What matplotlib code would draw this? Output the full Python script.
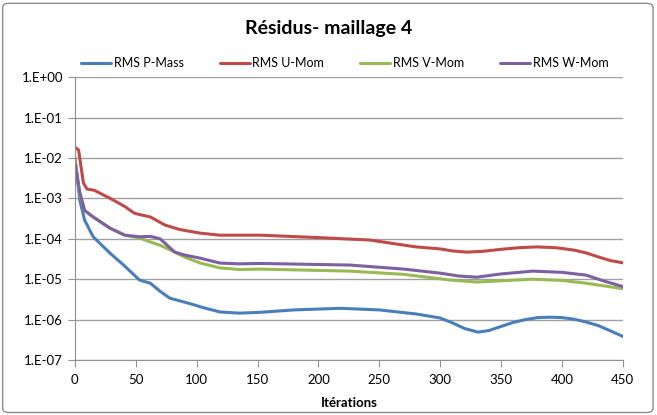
import math
import matplotlib.pyplot as plt
import matplotlib.ticker as mticker
from matplotlib.patches import FancyBboxPatch

plt.rcParams['font.family'] = ['Lato', 'DejaVu Sans']

# values (log10 of residual)
x_p = [0, 4, 8, 15, 29, 40, 53, 62, 70, 78, 94, 105, 119, 135, 152, 180, 218, 250, 280, 300, 310, 320, 331,
       340, 350, 360, 370, 380, 390, 400, 410, 420, 430, 440, 451]
p_mass = [-1.98, -3.04, -3.54, -3.95, -4.36, -4.65, -5.02, -5.1, -5.3, -5.47, -5.6, -5.7, -5.81, -5.84, -5.82,
          -5.76, -5.72, -5.76, -5.86, -5.96, -6.08, -6.22, -6.31, -6.27, -6.17, -6.07, -6.0, -5.95, -5.94,
          -5.95, -5.99, -6.06, -6.15, -6.28, -6.43]

x_u = [0, 3, 7, 10, 16, 29, 41, 49, 62, 74, 86, 103, 119, 152, 200, 242, 280, 300, 310, 322, 335, 350, 365,
       379, 395, 410, 420, 430, 440, 451]
u_mom = [-1.73, -1.8, -2.62, -2.77, -2.8, -3.0, -3.2, -3.37, -3.46, -3.66, -3.77, -3.86, -3.91, -3.91, -3.97,
         -4.03, -4.2, -4.25, -4.3, -4.33, -4.31, -4.26, -4.22, -4.2, -4.22, -4.28, -4.35, -4.45, -4.54, -4.6]

x_v = [0, 4, 8, 15, 29, 41, 53, 62, 70, 82, 90, 103, 119, 135, 152, 226, 270, 308, 330, 350, 376, 400, 420,
       451]
v_mom = [-2.0, -2.9, -3.3, -3.46, -3.74, -3.91, -3.98, -4.08, -4.16, -4.33, -4.45, -4.6, -4.72, -4.76, -4.75,
         -4.8, -4.88, -5.02, -5.07, -5.04, -5.0, -5.03, -5.1, -5.24]

x_w = [0, 4, 8, 15, 29, 41, 53, 62, 70, 82, 90, 103, 119, 135, 152, 226, 270, 300, 315, 330, 350, 376, 400,
       420, 435, 451]
w_mom = [-2.1, -2.85, -3.3, -3.46, -3.74, -3.91, -3.95, -3.94, -4.0, -4.33, -4.4, -4.48, -4.6, -4.62, -4.61,
         -4.65, -4.75, -4.85, -4.92, -4.95, -4.87, -4.8, -4.83, -4.9, -5.05, -5.19]

names = ['RMS P-Mass', 'RMS U-Mom', 'RMS V-Mom', 'RMS W-Mom']
colors = ['#4A7EBB', '#BE4B48', '#98B954', '#7D60A0']

fig = plt.figure(figsize=(6.57, 4.15), dpi=100)
ax = fig.add_axes([0.114, 0.1325, 0.834, 0.6815])

series = [(x_p, p_mass), (x_u, u_mom), (x_v, v_mom), (x_w, w_mom)]
for (xs, ys), name, c in zip(series, names, colors):
    ax.plot(xs, [10 ** v for v in ys], color=c, lw=2.2, label=name,
            solid_capstyle='round', solid_joinstyle='round')

ax.set_yscale('log')
ax.set_ylim(1e-7, 1e0)
ax.set_xlim(0, 450)
ax.set_xticks(range(0, 451, 50))
ax.yaxis.set_major_locator(mticker.LogLocator(base=10, numticks=10))
ax.yaxis.set_minor_locator(mticker.NullLocator())
ax.yaxis.set_major_formatter(mticker.FuncFormatter(lambda v, p: '1.E%+03d' % round(math.log10(v))))
ax.grid(axis='y', color='#A0A0A0', lw=1)
ax.set_axisbelow(True)
for s in ['top', 'right']:
    ax.spines[s].set_visible(False)
for s in ['left', 'bottom']:
    ax.spines[s].set_color('#909090')
ax.tick_params(axis='both', colors='#909090', labelcolor='black', labelsize=9.5, length=5)
ax.tick_params(axis='x', direction='out', pad=5)
ax.set_xlabel('Itérations', fontsize=9.5, fontweight='bold', labelpad=8)

fig.text(0.5, 0.932, 'Résidus- maillage 4', fontsize=14, fontweight='bold', ha='center', va='center')
fig.legend(loc='center', bbox_to_anchor=(0.525, 0.848), ncol=4, frameon=False, fontsize=9,
           handlelength=2.4, columnspacing=2.9, handletextpad=0.2)

fig.patches.append(FancyBboxPatch((0.004, 0.006), 0.99, 0.986, boxstyle='round,pad=0,rounding_size=0.01',
                                  transform=fig.transFigure, fill=False, ec='#8C8C8C', lw=1))

fig.savefig('out.png', dpi=100)
